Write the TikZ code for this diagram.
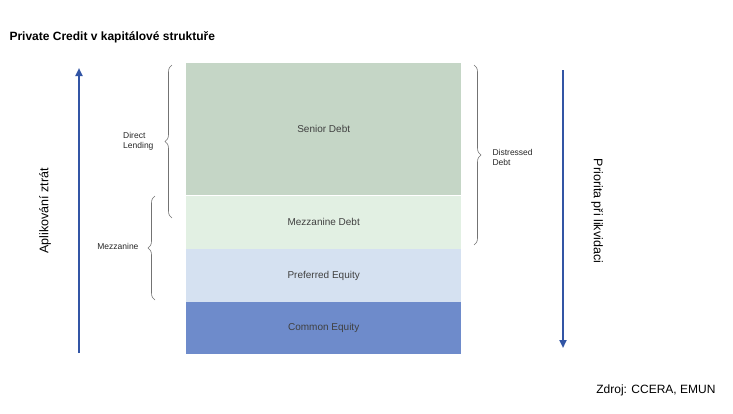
\documentclass[tikz,border=0pt]{standalone}
\usepackage{fontspec}
\setmainfont{Liberation Sans}
\usetikzlibrary{positioning,decorations.pathreplacing,arrows.meta}
\definecolor{csenior}{RGB}{197,214,198}
\definecolor{cmezz}{RGB}{226,240,227}
\definecolor{cpref}{RGB}{213,225,241}
\definecolor{ccommon}{RGB}{110,139,203}
\definecolor{carrow}{RGB}{50,85,165}

\begin{document}
\begin{tikzpicture}[x=1pt, y=-1pt,
    layer/.style={minimum width=275pt, inner sep=0pt, font=\fontsize{10}{12}\selectfont, text=black!75},
    brace/.style={decorate, decoration={brace, amplitude=7pt}, draw=black!55, line width=0.6pt},
    blabel/.style={font=\fontsize{8.5}{10}\selectfont, align=left, text=black!85},
    arrow/.style={-{Triangle[length=8pt,width=7pt]}, line width=2.2pt, color=carrow},
  ]
  \useasboundingbox (0,0) rectangle (733,413);

  % Title
  \node[anchor=west, font=\fontsize{12}{14}\selectfont\bfseries] (title) at (6,37) {Private Credit v kapitálové struktuře};

  % Layers
  \node[layer, fill=csenior, minimum height=132pt, anchor=north west] (senior) at (186,63) {Senior Debt};
  \node[layer, fill=cmezz, minimum height=53pt, below=0pt of senior] (mezz) {Mezzanine Debt};
  \node[layer, fill=cpref, minimum height=53pt, below=0pt of mezz] (pref) {Preferred Equity};
  \node[layer, fill=ccommon, minimum height=52pt, below=0pt of pref] (common) {Common Equity};

  % Braces
  \coordinate (dlA) at (172,218);
  \coordinate (dlB) at (172,65);
  \draw[brace] (dlA) -- (dlB);
  \node[blabel, anchor=east] (dl) at (157,141) {Direct\\Lending};

  \coordinate (mzA) at (155,300);
  \coordinate (mzB) at (155,196);
  \draw[brace] (mzA) -- (mzB);
  \node[blabel, anchor=east] (mz) at (142,246) {Mezzanine};

  \coordinate (ddA) at (474,65);
  \coordinate (ddB) at (474,245);
  \draw[brace] (ddA) -- (ddB);
  \node[blabel, anchor=west] (dd) at (489,157) {Distressed\\Debt};

  % Arrows
  \coordinate (lossA) at (79,353);
  \coordinate (lossB) at (79,68);
  \draw[arrow] (lossA) -- (lossB);
  \node[rotate=90, font=\fontsize{12.5}{14}\selectfont] (loss) at (45,211) {Aplikování ztrát};

  \coordinate (prioA) at (563,70);
  \coordinate (prioB) at (563,348);
  \draw[arrow] (prioA) -- (prioB);
  \node[rotate=-90, font=\fontsize{12.5}{14}\selectfont] (prio) at (597,211) {Priorita při likvidaci};

  % Source
  \node[anchor=east, font=\fontsize{12}{14}\selectfont] (src) at (719,390) {Zdroj: CCERA, EMUN};
\end{tikzpicture}
\end{document}
